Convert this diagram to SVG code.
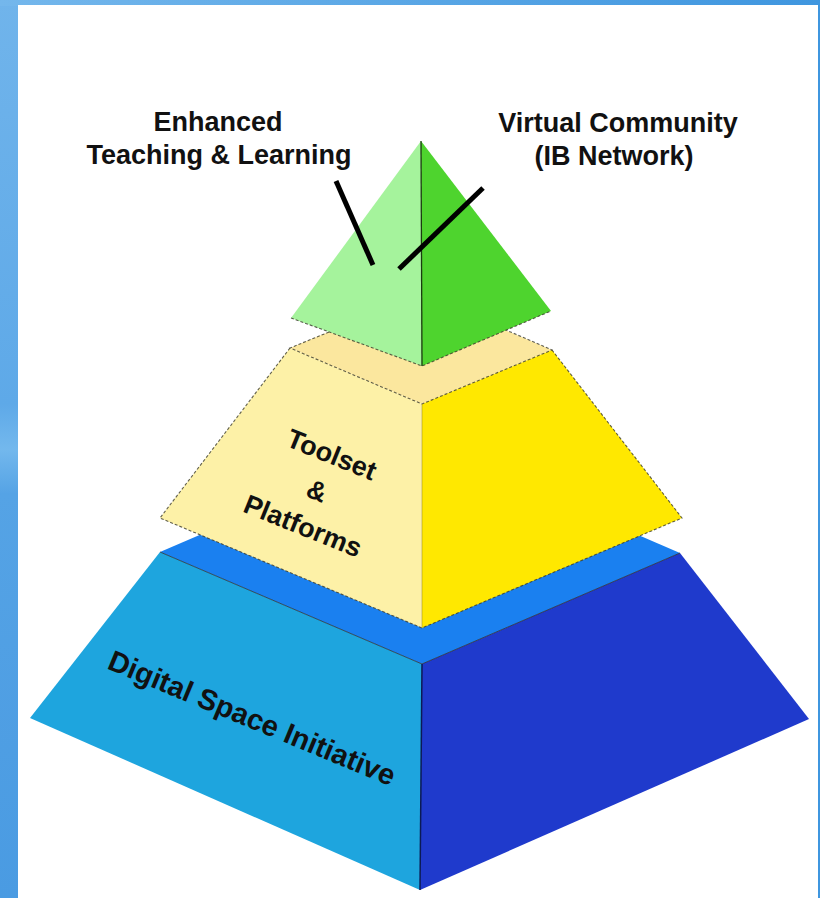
<svg xmlns="http://www.w3.org/2000/svg" width="820" height="898" viewBox="0 0 820 898">
  <defs>
    <linearGradient id="topband" x1="0" y1="0" x2="1" y2="0">
      <stop offset="0" stop-color="#74B7EC"/>
      <stop offset="1" stop-color="#3F96DF"/>
    </linearGradient>
    <linearGradient id="sideband" x1="0" y1="0" x2="0" y2="1">
      <stop offset="0" stop-color="#70B4EB"/>
      <stop offset="0.45" stop-color="#5EA9E8"/>
      <stop offset="0.5" stop-color="#73B8ED"/>
      <stop offset="0.55" stop-color="#55A3E5"/>
      <stop offset="1" stop-color="#4A9BE2"/>
    </linearGradient>
    <style>
      .label { font-family: "Liberation Sans", Arial, sans-serif; font-weight: bold; fill: #111; }
      .edge { fill: none; stroke: #2a2a2a; stroke-width: 1; stroke-opacity: 0.75; }
      .dash { fill: none; stroke: #3a3a2a; stroke-width: 1.1; stroke-dasharray: 3 2; stroke-opacity: 0.8; }
      .callout { stroke: #000; stroke-width: 5; stroke-linecap: butt; }
    </style>
  </defs>

  <g id="background">
    <rect x="0" y="0" width="820" height="898" fill="url(#sideband)"/>
    <rect x="0" y="0" width="820" height="6" fill="url(#topband)"/>
    <rect x="816" y="0" width="4" height="898" fill="#3F96DF"/>
    <rect x="18" y="5" width="800" height="893" fill="#FFFFFF"/>
  </g>

  <g id="tier-base">
    <polygon points="160,552 290,496 550,497 680,553 422,664" fill="#1A80F0"/>
    <polygon points="160,552 422,664 420,890 30,718" fill="#1EA5DE"/>
    <polygon points="422,664 680,553 809,719 420,890" fill="#1F3ACC"/>
    <polyline class="edge" points="160,552 422,664 680,553"/>
    <line x1="422" y1="664" x2="420" y2="890" stroke="#0B1A55" stroke-width="1.5"/>
    <text class="label" font-size="29" fill="#0B1533" transform="translate(252,718) rotate(22.5)" text-anchor="middle" dy="10">Digital Space Initiative</text>
  </g>

  <g id="tier-middle">
    <polygon points="290,348 355,321 486,322 552,350 422,404" fill="#FBE79E"/>
    <polygon points="290,348 422,404 422,628 160,518" fill="#FDF1A7"/>
    <polygon points="422,404 552,350 682,518 422,628" fill="#FFE800"/>
    <polyline class="dash" points="329,332 290,348 422,404 552,350 506,330"/>
    <polyline class="dash" points="290,348 160,518 422,628 682,518 552,350"/>
    <line x1="422" y1="404" x2="422" y2="628" stroke="#8a7d30" stroke-width="0.8" stroke-opacity="0.6"/>
    <g transform="translate(317,491) rotate(22)">
      <text class="label" font-size="27" text-anchor="middle" y="-30">Toolset</text>
      <text class="label" font-size="27" text-anchor="middle" y="9">&amp;</text>
      <text class="label" font-size="27" text-anchor="middle" y="47">Platforms</text>
    </g>
  </g>

  <g id="tier-top">
    <polygon points="421,141 291,318 422,366" fill="#A5F39C"/>
    <polygon points="421,141 422,366 551,311" fill="#4ED42E"/>
    <polyline class="dash" points="291,318 422,366 551,311"/>
    <line x1="421" y1="141" x2="422" y2="366" stroke="#1B3A10" stroke-width="1.3"/>
  </g>

  <g id="label-teaching">
    <text class="label" font-size="27" x="218" y="131" text-anchor="middle">Enhanced</text>
    <text class="label" font-size="27" x="219" y="164" text-anchor="middle">Teaching &amp; Learning</text>
  </g>
  <g id="label-community">
    <text class="label" font-size="27" x="618" y="132" text-anchor="middle">Virtual Community</text>
    <text class="label" font-size="27" x="614" y="165" text-anchor="middle">(IB Network)</text>
  </g>

  <g id="connectors">
    <line class="callout" x1="336" y1="181" x2="373" y2="265"/>
    <line class="callout" x1="483" y1="188" x2="399" y2="269"/>
  </g>
</svg>
